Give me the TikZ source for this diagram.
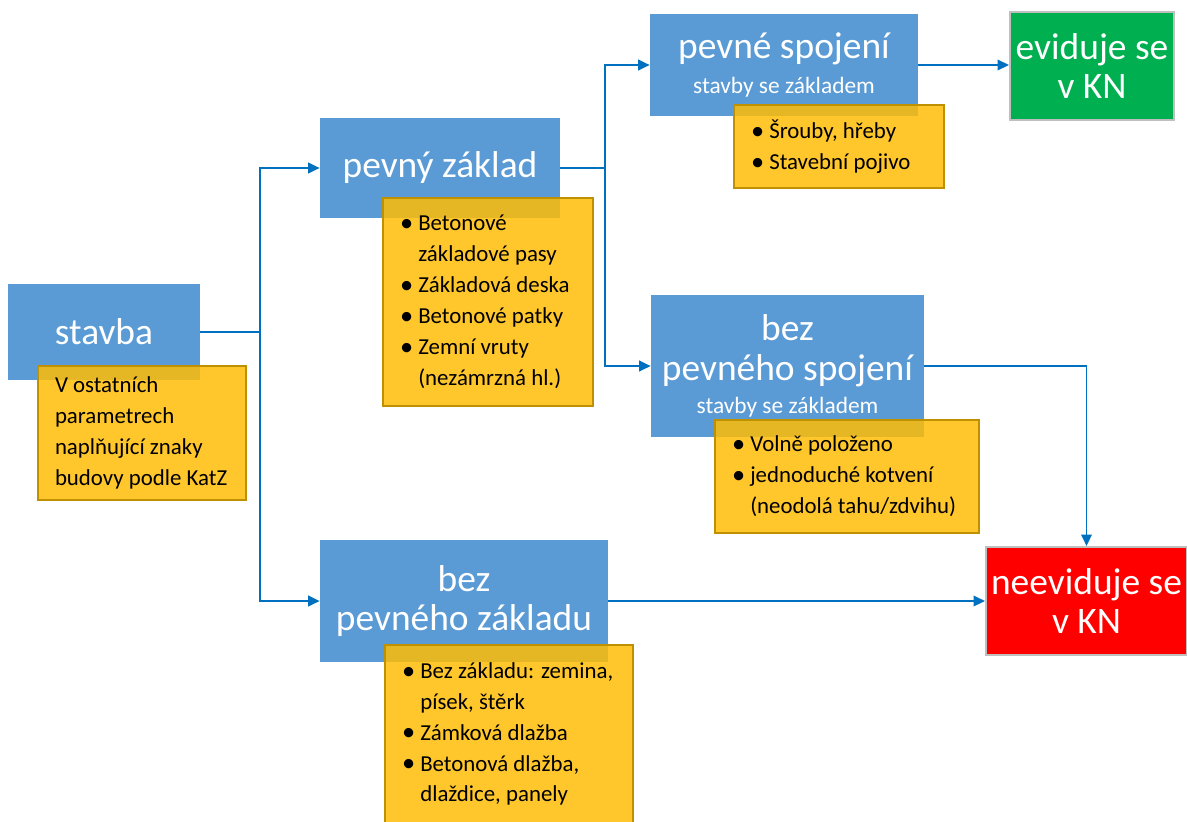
\documentclass[tikz,border=0pt]{standalone}
\usepackage{fontspec}
\setmainfont{Carlito}
\usetikzlibrary{arrows.meta}

\definecolor{modra}{HTML}{5B9BD5}
\definecolor{zluta}{HTML}{FFBD07}
\definecolor{zlata}{HTML}{BF9000}
\definecolor{zelena}{HTML}{00B050}
\definecolor{cervena}{HTML}{FF0000}
\definecolor{seda}{HTML}{BFBFBF}
\definecolor{linka}{HTML}{0070C0}

\newcommand{\podnadpis}{\fontsize{13.3}{16}\selectfont}
\newcommand{\bod}[1]{\mbox{\makebox[0.8em][l]{\raisebox{-0.08ex}{\fontsize{15}{15}\selectfont\textbullet}}#1}}
\newcommand{\dal}[1]{\mbox{\hspace*{0.8em}#1}}

\begin{document}
\begin{tikzpicture}[>={Triangle[length=6.5pt,width=6pt]},
	blok/.style={fill=modra, text=white, align=center, inner sep=0pt, font=\fontsize{21.3}{22.7}\selectfont},
	vysledek/.style={blok, draw=seda, line width=1.2pt},
	pozn/.style={fill=zluta, fill opacity=0.85, text opacity=1, draw=zlata, line width=1.1pt, inner xsep=0.34cm, inner ysep=0pt, align=flush left, text width=#1, font=\fontsize{13}{17.6}\selectfont},
	spoj/.style={draw=linka, line width=1.1pt, ->}]
	\useasboundingbox (0,0) rectangle (23.74,-16.42);

	\node[blok, minimum width=3.84cm, minimum height=1.92cm] (stavba) at (2.08,-6.64) {stavba};
	\node[blok, minimum width=4.80cm, minimum height=2.00cm] (pevnyZaklad) at (8.80,-3.36) {pevný základ};
	\node[blok, minimum width=5.76cm, minimum height=2.44cm] (bezZakladu) at (9.28,-12.02) {bez\\pevného základu};
	\node[blok, minimum width=5.36cm, minimum height=2.04cm] (pevneSpojeni) at (15.68,-1.30)%
		{pevné spojení\\[-3pt]{\podnadpis stavby se základem}};
	\node[blok, minimum width=5.46cm, minimum height=2.84cm] (bezSpojeni) at (15.75,-7.32)%
		{bez\\pevného spojení\\[-4pt]{\podnadpis stavby se základem}};
	\node[vysledek, fill=zelena, minimum width=3.28cm, minimum height=2.16cm] (eviduje) at (21.84,-1.32) {eviduje se\\v KN};
	\node[vysledek, fill=cervena, minimum width=4.02cm, minimum height=2.16cm] (neeviduje) at (21.73,-12.02) {neeviduje se\\v KN};

	\coordinate (uzel1) at (5.20,-6.64);
	\coordinate (uzel2) at (12.10,-3.36);
	\draw[spoj] (stavba.east) -- (uzel1) |- (pevnyZaklad.west);
	\draw[spoj] (uzel1) |- (bezZakladu.west);
	\draw[spoj] (pevnyZaklad.east) -- (uzel2) |- (pevneSpojeni.west);
	\draw[spoj] (uzel2) |- (bezSpojeni.west);
	\draw[spoj] (pevneSpojeni.east) -- (pevneSpojeni.east -| eviduje.west);
	\draw[spoj] (bezSpojeni.east) -| (neeviduje.north);
	\draw[spoj] (bezZakladu.east) -- (neeviduje.west);

	\node[pozn=3.48cm, minimum height=2.68cm] (stavbaPozn) at (2.84,-8.66)%
		{V ostatních\\parametrech\\naplňující znaky\\budovy podle KatZ};
	\node[pozn=3.52cm, minimum height=4.16cm] (pevnyZakladPozn) at (9.76,-6.04)%
		{\bod{Betonové}\\\dal{základové pasy}\\\bod{Základová deska}\\\bod{Betonové patky}\\\bod{Zemní vruty}\\\dal{(nezámrzná hl.)}};
	\node[pozn=3.52cm, minimum height=1.66cm] (pevneSpojeniPozn) at (16.78,-2.93)%
		{\bod{Šrouby, hřeby}\\\bod{Stavební pojivo}};
	\node[pozn=4.60cm, minimum height=2.26cm] (bezSpojeniPozn) at (16.94,-9.53)%
		{\bod{Volně položeno}\\\bod{jednoduché kotvení}\\\dal{(neodolá tahu/zdvihu)}};
	\node[pozn=4.28cm, minimum height=3.56cm] (bezZakladuPozn) at (10.18,-14.68)%
		{\bod{Bez základu: zemina,}\\\dal{písek, štěrk}\\\bod{Zámková dlažba}\\\bod{Betonová dlažba,}\\\dal{dlaždice, panely}};

\end{tikzpicture}
\end{document}
